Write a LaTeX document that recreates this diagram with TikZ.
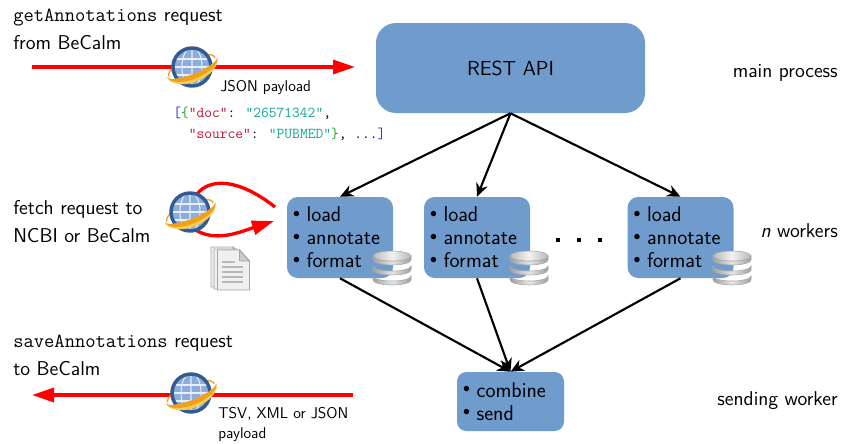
\documentclass[tikz,border=0pt]{standalone}
\usepackage{amsmath,amssymb}
\usepackage{xcolor}
\usetikzlibrary{arrows.meta}

\definecolor{boxblue}{RGB}{112,155,205}
\definecolor{jsonred}{RGB}{190,20,50}
\definecolor{jsonteal}{RGB}{20,165,150}
\definecolor{jsonblue}{RGB}{40,40,215}
\definecolor{jsongreen}{RGB}{30,160,40}
\definecolor{globedark}{RGB}{50,92,145}
\definecolor{globelight}{RGB}{140,172,220}
\definecolor{ringorange}{RGB}{240,160,30}
\definecolor{ringyellow}{RGB}{250,205,80}

\newcommand{\itemdot}{\raisebox{3.5pt}{\scalebox{0.6}{$\bullet$}}\hspace{5pt}}

\tikzset{
  apibox/.style={draw=none,fill=boxblue,rounded corners=15pt,minimum width=201.75pt,minimum height=67.5pt,font=\sffamily\fontsize{15.2}{18}\selectfont},
  workerbox/.style={draw=none,fill=boxblue,rounded corners=8pt,minimum height=60.75pt,text width=70.5pt,inner xsep=4.5pt,inner ysep=0pt,align=left,font=\sffamily\fontsize{16}{17.25}\selectfont},
  sendbox/.style={draw=none,fill=boxblue,rounded corners=7pt,minimum height=44.25pt,text width=71.25pt,inner xsep=4.5pt,inner ysep=0pt,align=left,font=\sffamily\fontsize{16}{17.25}\selectfont},
  leftlabel/.style={anchor=north west,align=left,inner sep=0pt,font=\sffamily\fontsize{15}{21}\selectfont},
  rightlabel/.style={anchor=east,inner sep=0pt,font=\sffamily\fontsize{15}{18}\selectfont},
  smalllabel/.style={anchor=north west,align=left,inner sep=0pt,font=\sffamily\fontsize{11.7}{15}\selectfont},
  redline/.style={draw=red,line width=2.5pt},
  redarrow/.style={redline,-{Triangle[length=16.5pt,width=10.5pt]}},
  blackarrow/.style={draw=black,line width=1.6pt,-{Stealth[length=10pt,width=9pt]}},
  globe/.pic={
    \draw [ringorange,line width=1pt,rotate=22] (-25,0) arc [start angle=180,end angle=0,x radius=25,y radius=9];
    \fill [globelight] (0,0) circle (20);
    \begin{scope}
      \clip (0,0) circle (20);
      \draw [white!80!globelight,line width=0.8pt] (-20,-8) -- (20,-8) (-20,0) -- (20,0) (-20,8) -- (20,8);
      \draw [white!80!globelight,line width=0.8pt] (0,-20) -- (0,20) (0,0) ellipse (10 and 20);
    \end{scope}
    \draw [globedark,line width=2.6pt] (0,0) circle (19);
    \fill [ringyellow,rotate=22] (-27,0) arc [start angle=180,end angle=360,x radius=27,y radius=15] arc [start angle=0,end angle=-180,x radius=27,y radius=7] -- cycle;
    \fill [ringorange,rotate=22] (-27,0) arc [start angle=180,end angle=360,x radius=27,y radius=12] arc [start angle=0,end angle=-180,x radius=27,y radius=7] -- cycle;
  },
  database/.pic={
    \foreach \dy in {-8,2,12} {
      \draw [gray!70,line width=0.4pt,left color=gray!75,right color=gray!75,middle color=gray!20]
        (-19,\dy) -- (-19,\dy-4) arc [start angle=180,end angle=360,x radius=19,y radius=5] -- (19,\dy) arc [start angle=0,end angle=-180,x radius=19,y radius=5] -- cycle;
    }
    \draw [gray!70,line width=0.4pt,left color=gray!55,right color=gray!55,middle color=gray!10] (0,12) ellipse (19 and 5);
  },
  pagesheet/.pic={
    \draw [gray!70,line width=0.7pt,fill=gray!12] (-16,20) -- (6,20) -- (16,9) -- (16,-20) -- (-16,-20) -- cycle;
    \draw [gray!70,line width=0.7pt,fill=gray!40] (6,20) -- (6,9) -- (16,9) -- cycle;
  },
}

\begin{document}
\begin{tikzpicture}[x=0.75pt,y=0.75pt,yscale=-1,xscale=1]
\useasboundingbox (0,0) rectangle (841,443);

% Boxes
\draw (510.5,68) node [apibox] (rest) {\raisebox{-2pt}{REST API}};
\draw (340,237.5) node [workerbox] (workera) {\itemdot load\\\itemdot annotate\\\itemdot format};
\draw (477,237.5) node [workerbox] (workerb) {\itemdot load\\\itemdot annotate\\\itemdot format};
\draw (680.5,237.5) node [workerbox] (workerc) {\itemdot load\\\itemdot annotate\\\itemdot format};
\draw (510.5,401.5) node [sendbox] (send) {\itemdot combine\\\itemdot send};

% Black arrows
\foreach \worker in {workera,workerb,workerc} {
  \draw [blackarrow] (rest.south) -- (\worker.north);
  \draw [blackarrow] (\worker.south) -- (send.north);
}

% Worker dots
\foreach \dotx in {558,579,600} {
  \fill (\dotx-2,238) rectangle (\dotx+2,242);
}

% Red arrows
\coordinate (getstart) at (32,67);
\coordinate (getend) at (355,67);
\coordinate (savestart) at (353,395);
\coordinate (saveend) at (32,395);
\coordinate (fetchout) at (197,194);
\coordinate (fetchback) at (275,207);
\coordinate (fetchin) at (194,229);
\coordinate (fetchtip) at (274,221);
\draw [redarrow] (getstart) -- (getend);
\draw [redarrow] (savestart) -- (saveend);
\draw [redline] (fetchout) .. controls (210,178) and (238,178) .. (fetchback);
\draw [redarrow] (fetchin) .. controls (215,243) and (240,232) .. (fetchtip);

% Globes and icons
\pic at (192,67) {globe};
\pic at (190,212) {globe};
\pic at (191,393) {globe};
\pic at (392,268) {database};
\pic at (529,268) {database};
\pic at (732,268) {database};
\pic at (227,267) {pagesheet};
\pic at (230,269) {pagesheet};
\pic at (233.5,270) {pagesheet};
\foreach \liney/\linex in {262/235,267/243,272/243,277/243,282/243} {
  \draw [gray!55,line width=1.7pt] (222,\liney) -- (\linex,\liney);
}

% Text Node
\draw (13,9) node [leftlabel] (getlabel) {\texttt{getAnnotations} request\\from BeCalm};
\draw (13,200) node [leftlabel] (fetchlabel) {fetch request to\\NCBI or BeCalm};
\draw (13,335) node [leftlabel] (savelabel) {\texttt{saveAnnotations} request\\to BeCalm};
\draw (838,73) node [rightlabel] (mainlabel) {main process};
\draw (838,231) node [rightlabel] (nlabel) {\textit{n} workers};
\draw (838,401) node [rightlabel] (sendlabel) {sending worker};
\draw (220,80) node [smalllabel] (jsonlabel) {JSON payload};
\draw (218,407) node [smalllabel] (tsvlabel) {TSV, XML or JSON\\payload};
\draw (173,107) node [anchor=north west,align=left,inner sep=0pt,font=\ttfamily\fontsize{11.3}{15.5}\selectfont] (jsoncode) {\textcolor{jsonblue}{[}\textcolor{jsongreen}{\{}\textcolor{jsonred}{"doc"}: \textcolor{jsonteal}{"26571342"},\\
\ \ \textcolor{jsonred}{"source"}: \textcolor{jsonteal}{"PUBMED"}\textcolor{jsongreen}{\}}, ...\textcolor{jsonblue}{]}};

\end{tikzpicture}
\end{document}
